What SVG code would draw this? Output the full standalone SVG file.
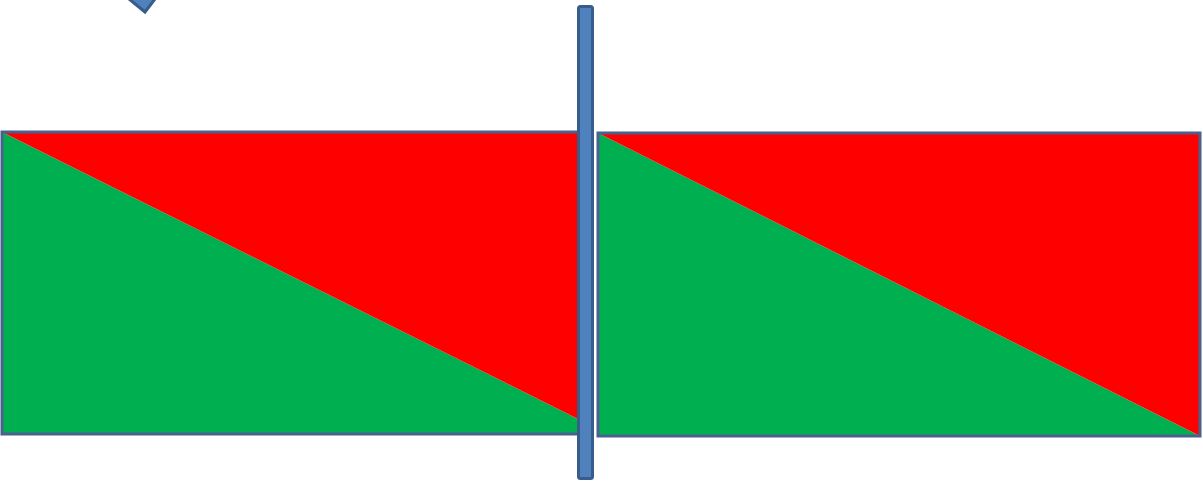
<svg xmlns="http://www.w3.org/2000/svg" width="1203" height="483" viewBox="0 0 1203 483">
<style>
.g{fill:#00b050}
.r{fill:#ff0000}
.edge{fill:none;stroke:#4a6190;stroke-width:3}
.bar{fill:#4f81bd;stroke:#385d8a;stroke-width:3}
</style>
<rect width="1203" height="483" fill="#ffffff"/>
<g id="corner-shape">
<path class="bar" d="M118,-10 L145,12 L168,-18 Z"/>
</g>
<g id="left-rect">
<polygon class="g" points="2,132 580,420 580,434 2,434"/>
<polygon class="r" points="2,132 580,132 580,420"/>
<rect class="edge" x="2" y="132" width="578" height="302"/>
</g>
<g id="right-rect">
<polygon class="g" points="598,133 1200,436 598,436"/>
<polygon class="r" points="598,133 1200,133 1200,436"/>
<rect class="edge" x="598" y="133" width="602" height="303"/>
</g>
<g id="divider">
<rect class="bar" x="578.5" y="6.5" width="14" height="472" rx="2"/>
</g>
</svg>
